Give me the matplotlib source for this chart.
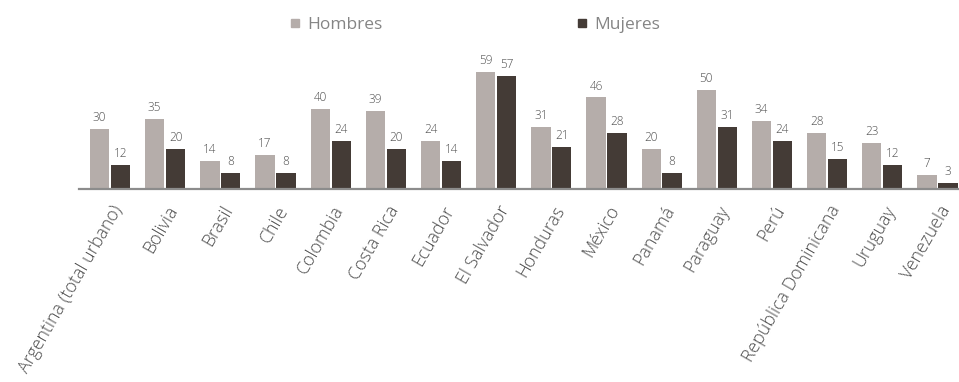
import matplotlib
matplotlib.use("Agg")
import matplotlib.pyplot as plt
import matplotlib.transforms as mtransforms
from matplotlib.lines import Line2D
import numpy as np

plt.rcParams['font.family'] = ['Open Sans', 'DejaVu Sans']

paises = ["Argentina (total urbano)", "Bolivia", "Brasil", "Chile", "Colombia",
          "Costa Rica", "Ecuador", "El Salvador", "Honduras", "México", "Panamá",
          "Paraguay", "Perú", "República Dominicana", "Uruguay", "Venezuela"]
hombres = [30, 35, 14, 17, 40, 39, 24, 59, 31, 46, 20, 50, 34, 28, 23, 7]
mujeres = [12, 20, 8, 8, 24, 20, 14, 57, 21, 28, 8, 31, 24, 15, 12, 3]

c_h = "#B5ADAA"
c_m = "#443B36"
c_txt = "#4D4D4D"

fig = plt.figure(figsize=(9.59, 3.82), dpi=100)
ax = fig.add_axes([0.0824, 0.5065, 0.9176, 0.3628])

x = np.arange(len(paises))
w = 0.35
off = 0.19
b1 = ax.bar(x - off, hombres, w, color=c_h)
b2 = ax.bar(x + off, mujeres, w, color=c_m)

for bars, vals in ((b1, hombres), (b2, mujeres)):
    for r, v in zip(bars, vals):
        ax.annotate(f"{v}", (r.get_x() + r.get_width() / 2, v),
                    xytext=(0, 3.5), textcoords="offset points",
                    ha="center", va="bottom", fontsize=8.5, color=c_txt,
                    fontweight="light")

ax.set_xlim(-0.562, 15.39)
ax.set_ylim(0, 70)
ax.set_yticks([])
for s in ("top", "right", "left"):
    ax.spines[s].set_visible(False)
ax.spines["bottom"].set_color("#8C8C8C")
ax.spines["bottom"].set_linewidth(1.6)

ax.set_xticks(x)
ax.set_xticklabels(paises, rotation=60, ha="right", va="top",
                   rotation_mode="anchor", fontsize=12.8, color=c_txt,
                   fontweight="light")
ax.tick_params(axis="x", length=0, pad=10)
shift = mtransforms.ScaledTranslation(1 / 100, 0, fig.dpi_scale_trans)
for lbl in ax.get_xticklabels():
    lbl.set_transform(lbl.get_transform() + shift)

handles = [Line2D([], [], marker="s", linestyle="", color=c_h, markersize=6),
           Line2D([], [], marker="s", linestyle="", color=c_m, markersize=6)]
fig.legend(handles, ["Hombres", "Mujeres"], loc="center", ncol=2,
           bbox_to_anchor=(0.494, 0.935), frameon=False, fontsize=12.5,
           labelcolor="#858585", handletextpad=0.3, columnspacing=11.1,
           handlelength=0.8)

fig.savefig("out.png", dpi=100)
